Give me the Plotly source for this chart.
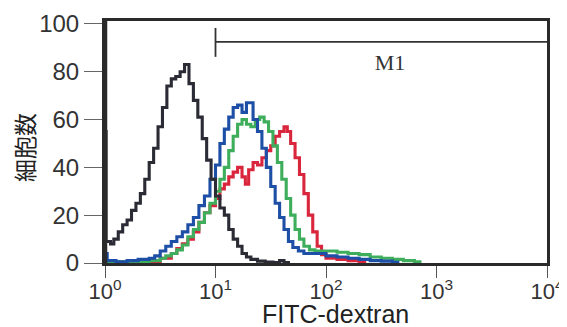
import plotly.graph_objects as go

# --- data (log10 of FITC-dextran intensity, cell counts) ---
black_log = [0.0, 0.01, 0.05, 0.08, 0.12, 0.16, 0.2, 0.24, 0.28, 0.32, 0.36, 0.4, 0.44, 0.48, 0.52, 0.56,
             0.6, 0.64, 0.68, 0.72, 0.76, 0.8, 0.84, 0.88, 0.92, 0.96, 1.0, 1.04, 1.08, 1.12, 1.16, 1.2,
             1.24, 1.28, 1.32, 1.38, 1.45, 1.52, 1.58, 1.62, 1.66]
black_cnt = [55, 9, 8, 10, 13, 16, 18, 22, 25, 29, 35, 42, 48, 57, 65, 74,
             77, 78, 80, 83, 75, 68, 61, 52, 43, 35, 28, 23, 20, 14, 10, 7,
             4, 2.5, 1.5, 0.8, 0.4, 0.2, 1, 0.2, 0]

blue_log = [0.0, 0.02, 0.1, 0.2, 0.3, 0.4, 0.45, 0.5, 0.55, 0.6, 0.65, 0.7, 0.75, 0.8, 0.85, 0.9, 0.95,
            1.0, 1.04, 1.08, 1.12, 1.16, 1.2, 1.24, 1.28, 1.31, 1.34, 1.38, 1.42, 1.46, 1.5, 1.54, 1.58,
            1.62, 1.66, 1.7, 1.75, 1.8, 1.9, 2.0, 2.1, 2.2, 2.3, 2.4, 2.5, 2.6, 2.65]
blue_cnt = [4, 1, 0.5, 1, 1.5, 2, 3, 5, 7, 9, 11, 13, 16, 19, 24, 28, 35,
            41, 50, 56, 61, 65, 66, 63, 67, 67, 60, 55, 48, 40, 32, 25, 19,
            14, 9, 6.5, 5, 4, 4, 3, 2.5, 2, 1.5, 1, 0.8, 0.3, 0]

green_log = [0.0, 0.2, 0.4, 0.5, 0.55, 0.6, 0.65, 0.7, 0.75, 0.8, 0.85, 0.9, 0.95, 1.0, 1.04, 1.08,
             1.12, 1.16, 1.2, 1.24, 1.28, 1.32, 1.36, 1.4, 1.44, 1.48, 1.52, 1.56, 1.6, 1.64, 1.68,
             1.72, 1.76, 1.8, 1.85, 1.9, 2.0, 2.1, 2.2, 2.3, 2.4, 2.5, 2.6, 2.7, 2.8, 2.85]
green_cnt = [0.5, 0.5, 1, 2, 3, 4, 5.5, 7.5, 11, 14, 17, 21, 25, 30, 35, 40,
             47, 53, 58, 60, 58, 57, 60, 61, 59, 55, 49, 42, 35, 27, 20,
             14, 10, 7, 5.5, 5, 5, 4.5, 4, 3.5, 2.5, 2, 1.5, 1, 0.5, 0]

red_log = [0.0, 0.3, 0.5, 0.6, 0.65, 0.7, 0.75, 0.8, 0.85, 0.9, 0.95, 1.0, 1.04, 1.08, 1.12, 1.16,
           1.2, 1.24, 1.27, 1.3, 1.34, 1.38, 1.42, 1.46, 1.5, 1.54, 1.58, 1.62, 1.65, 1.68, 1.72,
           1.76, 1.8, 1.84, 1.88, 1.92, 1.96, 2.0, 2.1, 2.2, 2.3, 2.35]
red_cnt = [0.3, 0.5, 2, 4, 6, 8, 10, 13, 17, 21, 24, 27, 31, 33, 36, 38,
           40, 36, 33, 39, 42, 41, 44, 47, 49, 53, 55, 57, 55, 50, 44,
           37, 29, 20, 13, 7, 3.5, 2, 1.5, 1, 0.5, 0]

gate_x = [10, 10000]      # M1 gate
gate_level = 92.5
gate_label = "M1"

y_ticks = [0, 20, 40, 60, 80, 100]
x_ticks = [1, 10, 100, 1000, 10000]
x_ticktext = ["10<sup>0</sup>", "10<sup>1</sup>", "10<sup>2</sup>", "10<sup>3</sup>", "10<sup>4</sup>"]

fig = go.Figure()

def add(logs, cnts, color):
    fig.add_trace(go.Scatter(x=[10 ** v for v in logs], y=cnts, mode="lines",
                             line=dict(color=color, width=3.1, shape="hv"),
                             showlegend=False, hoverinfo="skip"))

add(red_log, red_cnt, "#d9263c")
add(green_log, green_cnt, "#3fae5c")
add(blue_log, blue_cnt, "#1d4fa6")
add(black_log, black_cnt, "#2b2b35")

# M1 gate marker
fig.add_trace(go.Scatter(x=gate_x, y=[gate_level, gate_level], mode="lines",
                         line=dict(color="#333", width=1.8), showlegend=False, hoverinfo="skip"))
fig.add_trace(go.Scatter(x=[gate_x[0], gate_x[0]], y=[gate_level - 6.3, gate_level + 5.8], mode="lines",
                         line=dict(color="#333", width=1.8), showlegend=False, hoverinfo="skip"))
fig.add_trace(go.Scatter(x=[10 ** 2.58], y=[83], mode="text", text=[gate_label],
                         textfont=dict(family="Liberation Serif", size=22, color="#333"),
                         showlegend=False, hoverinfo="skip"))

# page body has an 8px margin, so the figure is 8px smaller and margins shifted
fig.update_layout(
    width=559, height=319,
    margin=dict(l=97, r=20, t=13, b=64, autoexpand=False),
    paper_bgcolor="white", plot_bgcolor="white",
    font=dict(family="Liberation Sans, Arial", color="#333"),
)
fig.update_xaxes(type="log", range=[0, 4], tickvals=x_ticks, ticktext=x_ticktext,
                 ticks="outside", ticklen=12, tickwidth=1.2, tickcolor="#555",
                 tickfont=dict(size=22, color="#333"), automargin=False, ticklabelstandoff=-5,
                 showline=True, linewidth=3, linecolor="#2a2a2a", mirror=True,
                 showgrid=False, zeroline=False)
fig.update_yaxes(range=[0, 101.2], tickvals=y_ticks,
                 ticks="outside", ticklen=18, tickwidth=1.2, tickcolor="#666",
                 tickfont=dict(size=24, color="#333"), automargin=False,
                 showline=True, linewidth=3, linecolor="#2a2a2a", mirror=True,
                 showgrid=False, zeroline=False)

# thicker left border as in the reference
fig.add_shape(type="line", xref="paper", yref="paper", x0=0, x1=0, y0=0, y1=1,
              line=dict(color="#2a2a2a", width=4.5), layer="above")

fig.add_annotation(text="FITC-dextran", xref="paper", yref="paper", x=(335 - 105) / 442, y=-(314 - 263) / 242,
                   showarrow=False, font=dict(size=25, color="#222"), xanchor="center", yanchor="middle")
fig.add_annotation(text="細胞数", xref="paper", yref="paper", x=-(105 - 24) / 442, y=(263 - 148) / 242,
                   showarrow=False, textangle=-90, font=dict(family="Noto Sans CJK JP", size=23, color="#222"),
                   xanchor="center", yanchor="middle")

fig.write_html("out.html")
